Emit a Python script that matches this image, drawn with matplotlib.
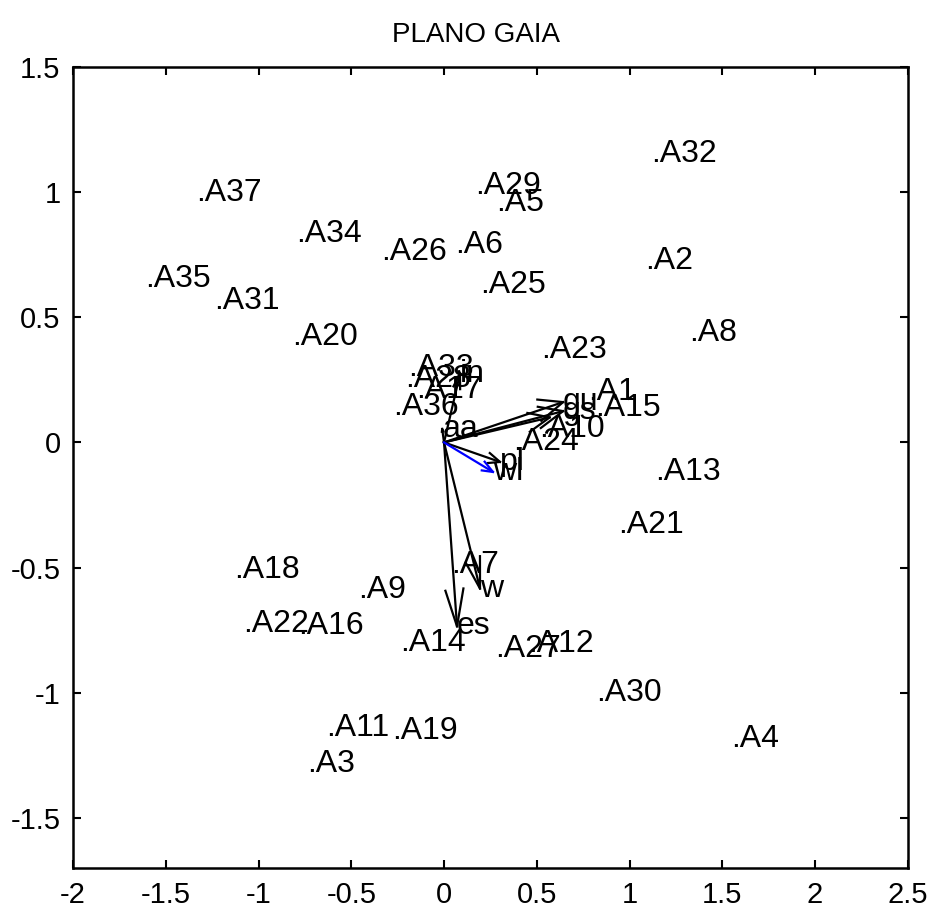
import numpy as np
import matplotlib
matplotlib.use("Agg")
import matplotlib.pyplot as plt

plt.rcParams['font.family'] = ['Liberation Sans', 'DejaVu Sans']
plt.rcParams['axes.unicode_minus'] = False

# alternatives projected on the GAIA plane
alt_names = ["A1", "A2", "A3", "A4", "A5", "A6", "A7", "A8", "A9", "A10",
             "A11", "A12", "A13", "A14", "A15", "A16", "A17", "A18", "A19", "A20",
             "A21", "A22", "A23", "A24", "A25", "A26", "A27", "A28", "A29", "A30",
             "A31", "A32", "A33", "A34", "A35", "A36", "A37"]
alt_x = [0.777, 1.085, -0.739, 1.549, 0.281, 0.059, 0.038, 1.322, -0.464, 0.513,
         -0.637, 0.453, 1.139, -0.237, 0.815, -0.788, -0.151, -1.133, -0.281, -0.820,
         0.939, -1.085, 0.523, 0.372, 0.194, -0.340, 0.275, -0.211, 0.167, 0.820,
         -1.241, 1.117, -0.194, -0.799, -1.614, -0.275, -1.338]
alt_y = [0.201, 0.723, -1.285, -1.185, 0.958, 0.787, -0.488, 0.436, -0.588, 0.054,
         -1.142, -0.807, -0.118, -0.803, 0.137, -0.735, 0.209, -0.508, -1.153, 0.420,
         -0.329, -0.727, 0.368, 0.002, 0.627, 0.759, -0.827, 0.253, 1.026, -1.002,
         0.564, 1.153, 0.297, 0.831, 0.651, 0.141, 0.998]

# criteria axes
crit_names = ["aa", "in", "gu", "gs", "", "pl", "w", "es"]
crit_u = [-0.010, 0.086, 0.642, 0.642, 0.570, 0.302, 0.194, 0.070]
crit_v = [0.054, 0.273, 0.161, 0.125, 0.100, -0.078, -0.584, -0.735]

# decision axis (blue)
pi_name = "wl"
pi_u = 0.264
pi_v = -0.118


def quiver_arrow(ax, u, v, color, alpha=0.2, beta=0.33):
    # matlab-like arrow: shaft plus two head strokes in data units
    ax.plot([0, u], [0, v], color=color, lw=1.6)
    hx = [u - alpha * (u + beta * v), u, u - alpha * (u - beta * v)]
    hy = [v - alpha * (v - beta * u), v, v - alpha * (v + beta * u)]
    ax.plot(hx, hy, color=color, lw=1.6)


fig = plt.figure(figsize=(9.28, 9.09), dpi=100)
ax = fig.add_axes([0.0787, 0.0451, 0.8995, 0.8813])

for name, x, y in zip(alt_names, alt_x, alt_y):
    ax.text(x, y, "." + name, fontsize=23, ha='left', va='center')

for name, u, v in zip(crit_names, crit_u, crit_v):
    quiver_arrow(ax, u, v, 'black')
    if name:
        ax.text(u, v, name, fontsize=23, ha='left', va='center')

quiver_arrow(ax, pi_u, pi_v, 'blue')
ax.text(pi_u, pi_v, pi_name, fontsize=23, ha='left', va='center')

ax.set_xlim(-2, 2.5)
ax.set_ylim(-1.7, 1.5)
ax.set_xticks(np.arange(-2, 2.51, 0.5))
ax.set_yticks(np.arange(-1.5, 1.51, 0.5))
ax.set_xticklabels(["-2", "-1.5", "-1", "-0.5", "0", "0.5", "1", "1.5", "2", "2.5"])
ax.set_yticklabels(["-1.5", "-1", "-0.5", "0", "0.5", "1", "1.5"])
ax.tick_params(direction='in', length=6, width=1.5, labelsize=21,
               top=True, right=True, pad=9)
for sp in ax.spines.values():
    sp.set_linewidth(1.8)

ax.set_title("PLANO GAIA", fontsize=20, pad=18, x=0.483)

fig.savefig("out.png", dpi=100)
